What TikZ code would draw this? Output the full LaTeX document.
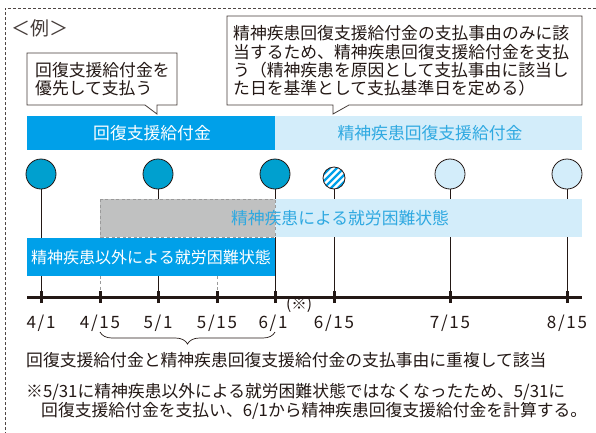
\documentclass[tikz,border=0pt]{standalone}
\usepackage{fontspec}
\setmainfont{Noto Sans CJK JP}
\newfontfamily\datefont[LetterSpace=10]{Noto Sans CJK JP}
\usetikzlibrary{decorations.pathreplacing}
\definecolor{ink}{HTML}{231815}
\definecolor{cyanbar}{HTML}{00A0E9}
\definecolor{circ}{HTML}{00A0CF}
\definecolor{pale}{HTML}{D3EDFA}
\definecolor{paletext}{HTML}{2FA9E1}
\definecolor{grayfill}{HTML}{C0C1C1}
\definecolor{graydash}{HTML}{9A9A9A}
\begin{document}
\begin{tikzpicture}[x=1pt,y=-1pt,
  font=\fontsize{16.8}{18.3}\selectfont,
  txt/.style={inner sep=0pt, text=ink},
  callout/.style={draw=ink!85, fill=white, line width=0.8pt},
  bigdot/.style={circle, draw=ink, line width=0.8pt, minimum size=30pt, inner sep=0pt},
  stem/.style={draw=ink, line width=0.8pt},
  dashstem/.style={draw=graydash, line width=0.9pt, dash pattern=on 3pt off 2.5pt},
  tick/.style={draw=ink, line width=3pt},
  datelbl/.style={inner sep=0pt, text=ink, font=\datefont\fontsize{17}{18}\selectfont}
]
\useasboundingbox (0,0) rectangle (596,432);
% frame
\draw[ink!80, line width=0.8pt, dash pattern=on 3pt off 2pt] (5,440) -- (5,8) -- (600,8);
\node[txt, anchor=west, font=\fontsize{19}{20}\selectfont, text=ink!85] (rei) at (11,28) {＜例＞};

% callout 1
\draw[callout] (27,53) -- (177,53) -- (177,105) -- (157,105) -- (157,114) -- (145,105) -- (27,105) -- cycle;
\node[txt, anchor=west, align=left] (c1) at (35,79) {回復支援給付金を\\優先して支払う};
% callout 2
\draw[callout] (227,16) -- (582,16) -- (582,105) -- (349,105) -- (333,114) -- (333,105) -- (227,105) -- cycle;
\node[txt, anchor=west, align=left] (c2) at (233,61) {精神疾患回復支援給付金の支払事由のみに該\\当するため、精神疾患回復支援給付金を支払\\う（精神疾患を原因として支払事由に該当し\\た日を基準として支払基準日を定める）};

% top bars
\fill[cyanbar] (27,116) rectangle (275,150);
\fill[pale] (275,116) rectangle (582,150);
\node[inner sep=0pt, text=white] (b1) at (152,133) {回復支援給付金};
\node[inner sep=0pt, text=paletext] (b2) at (430,133) {精神疾患回復支援給付金};

% axis coordinates
\foreach \n/\x in {1/41,2/100,3/158,4/217,5/275,6/334,7/450,8/567}
  \coordinate (t\n) at (\x,297);

% dots
\node[bigdot, fill=circ] (d1) at (41,174) {};
\node[bigdot, fill=circ] (d3) at (158,174) {};
\node[bigdot, fill=circ] (d5) at (275,174) {};
\node[circle, draw=ink, line width=0.8pt, minimum size=22pt, inner sep=0pt, fill=white,
  path picture={\foreach \k in {-21,-14,...,21}
    \draw[cyanbar, line width=2.4pt] ([shift={(\k,0)}]path picture bounding box.center) ++(-14,14) -- ++(28,-28);}] (d6) at (334,178) {};
\node[bigdot, fill=pale] (d7) at (450,174) {};
\node[bigdot, fill=pale] (d8) at (567,174) {};

% stems
\foreach \n in {1,3,5,6,7,8} \draw[stem] (d\n.south) -- (t\n);
\coordinate (g1) at (100,237);
\coordinate (g2) at (217,276);
\draw[dashstem] (g1) -- (t2);
\draw[dashstem] (g2) -- (t4);

% middle bands
\fill[pale] (275,199) rectangle (582,237);
\draw[fill=grayfill, draw=graydash, line width=0.9pt, dash pattern=on 3pt off 2.5pt] (100,199) rectangle (275,237);
\node[inner sep=0pt, text=paletext] (m1) at (340,218) {精神疾患による就労困難状態};
\fill[cyanbar] (27,238) rectangle (275,276);
\node[inner sep=0pt, text=white, font=\fontsize{16}{18}\selectfont] (m2) at (151,257) {精神疾患以外による就労困難状態};

% axis
\draw[ink, line width=3pt] (27,297) -- (582,297);
\foreach \n in {1,...,8} \draw[tick] ([yshift=-6pt]t\n) -- ([yshift=6pt]t\n);

% date labels
\node[datelbl] (l1) at (41,323) {4/1};
\node[datelbl] (l2) at (100,323) {4/15};
\node[datelbl] (l3) at (158,323) {5/1};
\node[datelbl] (l4) at (217,323) {5/15};
\node[datelbl] (l5) at (273,323) {6/1};
\node[inner sep=0pt, text=ink, font=\fontsize{15.5}{16}\selectfont] (star) at (299,305) {(※)};
\node[datelbl] (l6) at (334,323) {6/15};
\node[datelbl] (l7) at (450,323) {7/15};
\node[datelbl] (l8) at (567,323) {8/15};

% brace
\coordinate (br1) at (100,332);
\coordinate (br2) at (275,332);
\draw[ink, line width=0.7pt, decorate, decoration={brace, amplitude=12pt, mirror}] (br1) -- (br2);
\node[txt, anchor=west] (dup) at (26,360) {回復支援給付金と精神疾患回復支援給付金の支払事由に重複して該当};

% note
\node[txt, anchor=west] (n1) at (26,392) {※5/31に精神疾患以外による就労困難状態ではなくなったため、5/31に};
\node[txt, anchor=west] (n2) at (41,411) {回復支援給付金を支払い、6/1から精神疾患回復支援給付金を計算する。};
\end{tikzpicture}
\end{document}
